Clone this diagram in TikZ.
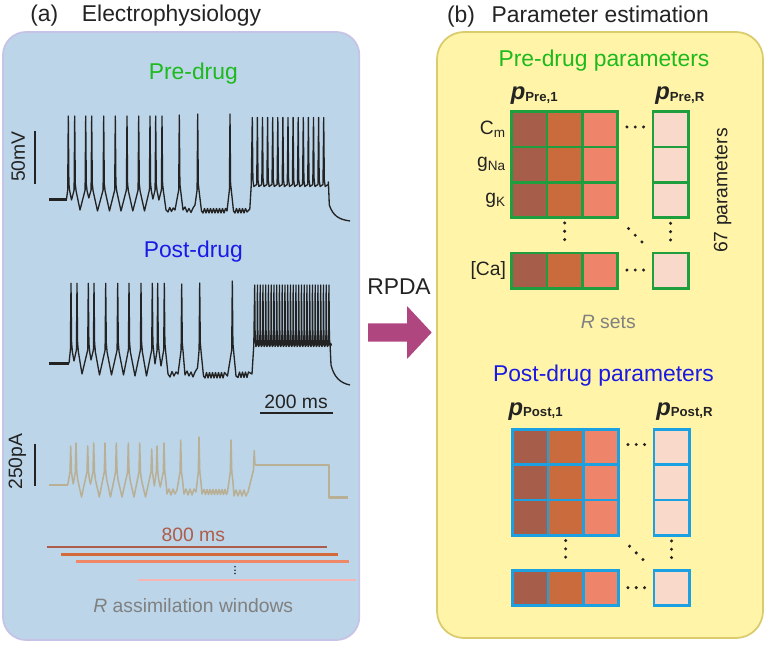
\documentclass[tikz,border=0pt]{standalone}
\usepackage{fontspec}
\setmainfont{Liberation Sans}
\usetikzlibrary{positioning}
\usetikzlibrary{calc}

\definecolor{ink}{HTML}{232323}
\definecolor{panelA}{HTML}{BCD5E9}
\definecolor{panelAline}{HTML}{C6C4E6}
\definecolor{panelB}{HTML}{FFF4A8}
\definecolor{panelBline}{HTML}{DACB6C}
\definecolor{predrug}{HTML}{1DBA1D}
\definecolor{postdrug}{HTML}{1A1AE6}
\definecolor{preframe}{HTML}{1F9E40}
\definecolor{postframe}{HTML}{1BA1E2}
\definecolor{cellA}{HTML}{A65E4A}
\definecolor{cellB}{HTML}{C96B3D}
\definecolor{cellC}{HTML}{EE856A}
\definecolor{cellR}{HTML}{F8D9CA}
\definecolor{stim}{HTML}{B8AF94}
\definecolor{winA}{HTML}{AD5D4A}
\definecolor{winB}{HTML}{D4693A}
\definecolor{winC}{HTML}{EE8866}
\definecolor{winD}{HTML}{F5B5B2}
\definecolor{rpda}{HTML}{B0467F}
\definecolor{labgray}{HTML}{808080}

\newcommand{\pvec}[1]{\textbf{\textit{p}}\raisebox{-0.6pt}{\fontsize{7.5}{8}\selectfont\textbf{#1}}}

\begin{document}
\begin{tikzpicture}[x=0.02cm,y=-0.02cm,
    every node/.append style={align=center, inner sep=0pt},
    big/.style={font=\fontsize{13}{15}\selectfont},
    small/.style={font=\fontsize{11}{13}\selectfont},
    rowlab/.style={font=\fontsize{11}{13}\selectfont, text=ink},
    plab/.style={font=\fontsize{13.5}{16}\selectfont, text=ink, anchor=base west},
    vtrace/.style={draw=ink, line width=0.75pt, line join=round},
    itrace/.style={draw=stim, line width=0.85pt, line join=round},
    bar/.style={draw=ink, line width=1pt},
    cell/.style={draw, line width=1.5pt, minimum size=0.706cm},
    win/.style={line width=1.5pt},
    pdot/.style={fill=ink}]
    \useasboundingbox (0,0) rectangle (767,645);

    % panels
    \draw[panelAline, fill=panelA, line width=1pt, rounded corners=0.46cm] (3,32) rectangle (359.3,640);
    \draw[panelBline, fill=panelB, line width=1pt, rounded corners=0.54cm] (437,32) rectangle (763,638);

    \node[big, text=ink, anchor=base west] (tagA) at (30,21.7) {(a)};
    \node[big, text=ink, right=0.46cm of tagA.base east, anchor=base west] (titleA) {Electrophysiology};
    \node[big, text=ink, anchor=base west] (tagB) at (446.7,22.5) {(b)};
    \node[big, text=ink, right=0.32cm of tagB.base east, anchor=base west] (titleB) {Parameter estimation};

    % (a) traces
    \node[big, text=predrug, anchor=base] (pre) at (193.3,80) {Pre-drug};
    \node[big, text=postdrug, anchor=base] (post) at (193.3,257.7) {Post-drug};

    \draw[vtrace, line width=1.4pt] (49,199.3) -- (66.5,199.3);
    \draw[vtrace] (66.5,199.3)
        foreach \s/\tx/\ty in {68.3/71.5/200, 74.7/80/210, 85.7/88.8/198, 91.7/97.5/211, 103.7/109.5/211,
            115.3/121/211, 127/132.8/211, 138.7/144.5/211, 150/152.9/199, 155.7/158.9/200, 162/166/210}
            { -- (\s-0.6,190) -- (\s,116) -- (\s+0.6,184) -- (\s+1.4,191) -- (\tx,\ty) }
        -- (168,212) -- (169.7,207.5) -- (171.5,211.5) -- (173.2,208) -- (175,210)
        foreach \s/\tx/\ty in {179.3/183/210}
            { -- (\s-0.6,190) -- (\s,115) -- (\s+0.6,184) -- (\s+1.4,191) -- (\tx,\ty) }
        -- (185,207) -- (187,212) -- (189,208.5) -- (191,212.5) -- (193,208) -- (195,205)
        foreach \s/\tx/\ty in {197.7/201.5/211}
            { -- (\s-0.6,190) -- (\s,114) -- (\s+0.6,184) -- (\s+1.4,191) -- (\tx,\ty) }
        foreach \w in {203,206,...,224} { -- (\w,213) -- (\w+1.5,208.5) }
        -- (227,211)
        foreach \s/\tx/\ty in {230/233.5/211}
            { -- (\s-0.6,190) -- (\s,114) -- (\s+0.6,184) -- (\s+1.4,191) -- (\tx,\ty) }
        foreach \w in {235,238,...,244} { -- (\w,213) -- (\w+1.5,208.5) }
        -- (247,212) -- (249.8,209) -- (251.2,186)
        foreach \s in {252.3,257.4,...,324} { -- (\s,117.5) -- (\s+0.6,180) -- (\s+1.5,186.5) -- (\s+4.4,184.5) }
        -- (328.4,182) -- (329.3,205) .. controls (333,216) and (339,219.5) .. (350,221);

    \draw[vtrace, line width=1.4pt] (49,363.3) -- (69,363.3);
    \draw[vtrace] (69,363.3)
        foreach \s/\tx/\ty in {71/74/361, 77/82/374, 88.3/91/360, 94/99.5/375, 105.7/111.5/375,
            117.7/123.5/375, 129/135/376, 141/146.5/376, 152.3/155/364, 157.7/161/366, 164.3/168/374}
            { -- (\s-0.6,350) -- (\s,283.3) -- (\s+0.6,343) -- (\s+1.4,352) -- (\tx,\ty) }
        -- (170,377) -- (172,371.5) -- (174,376) -- (176,372) -- (178,374)
        foreach \s/\tx/\ty in {181.7/185/375}
            { -- (\s-0.6,350) -- (\s,284) -- (\s+0.6,343) -- (\s+1.4,352) -- (\tx,\ty) }
        -- (187,371) -- (189,376) -- (191,372) -- (193,377) -- (195,372) -- (197.5,368)
        foreach \s/\tx/\ty in {199.7/203.5/376}
            { -- (\s-0.6,350) -- (\s,283) -- (\s+0.6,343) -- (\s+1.4,352) -- (\tx,\ty) }
        foreach \w in {205,208,...,224} { -- (\w,378) -- (\w+1.5,372.5) }
        -- (227.5,376)
        foreach \s/\tx/\ty in {232.3/236/376}
            { -- (\s-0.6,350) -- (\s,281) -- (\s+0.6,343) -- (\s+1.4,352) -- (\tx,\ty) }
        foreach \w in {238,241,...,247} { -- (\w,377.5) -- (\w+1.5,372) }
        -- (252,374) -- (253.8,345)
        foreach \s in {254.7,257.45,...,329.5} { -- (\s,285) -- (\s+0.45,338) -- (\s+1.2,346.5) -- (\s+2.4,344.5) }
        -- (330,343) -- (331,365) .. controls (334,377) and (340,383) .. (350,385);

    % injected current
    \draw[itrace, line width=1.7pt] (49,485) -- (67.7,485);
    \draw[itrace] (67.7,485)
        foreach \s/\p/\tx/\ty in {70.7/446/73.3/484, 76/443/81.5/497, 87.7/446/90.5/484, 93.7/443/99.3/497,
            105/443/110.5/497, 116.3/443/122/497, 128.3/443/134/497, 139.7/443/145.5/497,
            151.7/449/154.3/486, 157/446/160.3/487, 164/443/167/494}
            { -- (\s-0.7,472) -- (\s,\p) -- (\s+0.8,472) -- (\s+1.8,480) -- (\tx,\ty) }
        -- (169,489) -- (171,495) -- (173,489) -- (175,494) -- (177,490)
        foreach \s/\p/\tx/\ty in {180.7/440/184/494}
            { -- (\s-0.7,472) -- (\s,\p) -- (\s+0.8,472) -- (\s+1.8,480) -- (\tx,\ty) }
        -- (186,489) -- (188,495) -- (190,489) -- (192,495) -- (194,489) -- (196,492)
        foreach \s/\p/\tx/\ty in {199/437/202/494}
            { -- (\s-0.7,472) -- (\s,\p) -- (\s+0.8,472) -- (\s+1.8,480) -- (\tx,\ty) }
        foreach \w in {204,207,...,225} { -- (\w,489.5) -- (\w+1.5,494.5) }
        -- (227.5,492)
        foreach \s/\p/\tx/\ty in {231/440/234/496}
            { -- (\s-0.7,472) -- (\s,\p) -- (\s+0.8,472) -- (\s+1.8,480) -- (\tx,\ty) }
        -- (236,490) -- (238,496) -- (240,490) -- (242,496) -- (244,490) -- (246,496) -- (248,492)
        -- (253.5,470) -- (254.2,450.7) -- (255,465);
    \draw[itrace, line width=1.7pt] (255,465) -- (329,465) -- (329,497.7) -- (348.3,497.7);

    % scale bars
    \draw[bar] (35,131) -- (35,184);
    \node[small, text=ink, rotate=90] (mv) at (18.3,156.7) {50mV};
    \draw[bar] (260,413) -- (332.7,413);
    \node[small, text=ink] (ms) at (296,401.7) {200 ms};
    \draw[bar] (35,444) -- (35,486);
    \node[small, text=ink, rotate=90] (pa) at (17.5,461.7) {250pA};

    % assimilation windows
    \node[small, text=winA] (len) at (193.3,534.5) {800 ms};
    \draw[win, winA] (46.7,547) -- (326.7,547);
    \draw[win, winB] (61,554.3) -- (338.3,554.3);
    \draw[win, winC] (76.3,561.3) -- (349,561.3);
    \foreach \k in {0,1,2}
        \fill[pdot] (235,566.8+3.4*\k) circle[radius=0.5pt];
    \draw[win, winD, line width=1.1pt] (138.3,580) -- (355.7,580);
    \node[small, text=labgray] (nwin) at (193.3,606) {\textit{R} assimilation windows};

    % arrow
    \node[big, text=ink] (rpdaLab) at (399,287) {RPDA};
    \fill[rpda] (368,323.3) -- (407,323.3) -- (407,306) -- (431.7,332.5) -- (407,359)
        -- (407,341.7) -- (368,341.7) -- cycle;

    % (b) parameter sets
    \node[big, text=predrug, anchor=base] (preset) at (604,66.7) {Pre-drug parameters};
    \node[big, text=postdrug, anchor=base] (postset) at (603.5,381.7) {Post-drug parameters};

    \foreach \r in {0,1,2,4}{
        \foreach \c/\fc in {0/cellA,1/cellB,2/cellC,4/cellR}{
            \node[cell, draw=preframe, fill=\fc] (pre-\r-\c) at (529.35+35.3*\c,129.35+35.3*\r) {};
            \node[cell, draw=postframe, fill=\fc] (post-\r-\c) at (530.35+35.3*\c,446.95+35.3*\r) {};
        }
    }

    \foreach \g in {pre,post}{
        \foreach \k in {-1,0,1}{
            \fill[pdot] ($(\g-0-2.east)!.5!(\g-0-4.west)+(8.3*\k,-2.4)$) circle[radius=0.95pt];
            \fill[pdot] ($(\g-4-2.east)!.5!(\g-4-4.west)+(8.3*\k,-0.5)$) circle[radius=0.95pt];
            \fill[pdot] ($(\g-2-1.south)!.5!(\g-4-1.north)+(0,8.3*\k-4)$) circle[radius=0.95pt];
            \fill[pdot] ($(\g-2-4.south)!.5!(\g-4-4.north)+(0,8.3*\k-3.6)$) circle[radius=0.95pt];
            \fill[pdot] ($(\g-2-2.south east)!.5!(\g-4-4.north west)+(6.7*\k,6.7*\k)$) circle[radius=0.95pt];
        }
    }

    \node[plab] (pPre1) at (510.5,100) {\pvec{Pre,1}};
    \node[plab] (pPreR) at (655,100) {\pvec{Pre,R}};
    \node[plab] (pPost1) at (508.3,415.7) {\pvec{Post,1}};
    \node[plab] (pPostR) at (656,415.7) {\pvec{Post,R}};

    \node[rowlab, left=0.08cm of pre-0-0] (cm) {C\textsubscript{m}};
    \node[rowlab, left=0.08cm of pre-1-0] (gna) {g\textsubscript{Na}};
    \node[rowlab, left=0.08cm of pre-2-0] (gk) {g\textsubscript{K}};
    \node[rowlab, left=0.08cm of pre-4-0] (ca) {[Ca]};

    \node[small, text=ink, rotate=90] (npar) at (722.5,190.5) {67 parameters};
    \node[small, text=labgray] (nsets) at (608.3,321.5) {\textit{R} sets};
\end{tikzpicture}
\end{document}
